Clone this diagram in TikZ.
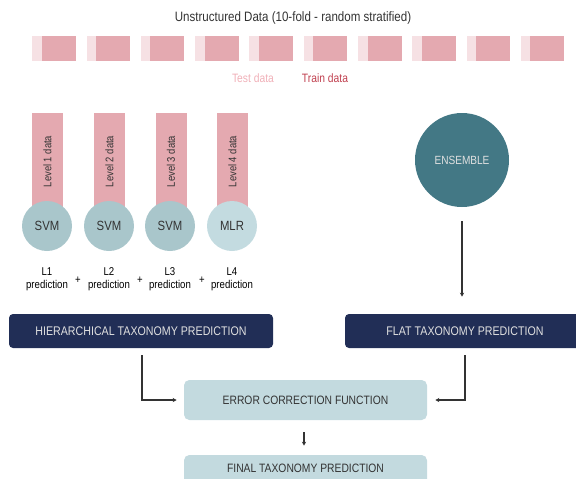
\documentclass[tikz,border=0pt]{standalone}
\usepackage{fontspec}
\setmainfont{Liberation Sans}[FakeStretch=0.85]
\usetikzlibrary{arrows.meta}
\definecolor{trainpink}{HTML}{E4A9B0}
\definecolor{testpink}{HTML}{F6E1E4}
\definecolor{testtxt}{HTML}{F0B0B8}
\definecolor{traintxt}{HTML}{C0404F}
\definecolor{svmcol}{HTML}{A9C6CB}
\definecolor{mlrcol}{HTML}{C3DBE0}
\definecolor{enscol}{HTML}{437885}
\definecolor{navy}{HTML}{212E56}
\definecolor{lightbox}{HTML}{C3DADF}
\definecolor{txtdark}{HTML}{333333}
\tikzset{
  testblk/.style={fill=testpink, draw=none, inner sep=0, minimum width=9.5*0.75pt, minimum height=25*0.75pt, anchor=west},
  trainblk/.style={fill=trainpink, draw=none, inner sep=0, minimum width=34*0.75pt, minimum height=25*0.75pt, anchor=west},
  levelbar/.style={fill=trainpink, draw=none, inner sep=0, minimum width=31*0.75pt, minimum height=97*0.75pt},
  levtxt/.style={rotate=90, font=\fontsize{8.3}{9}\selectfont, text=txtdark},
  clf/.style={circle, draw=none, minimum size=50*0.75pt, inner sep=0, font=\fontsize{10}{11}\selectfont, text=txtdark},
  predlbl/.style={align=center, font=\fontsize{8.5}{9.75}\selectfont, text=black, inner sep=0},
  navybox/.style={fill=navy, rounded corners=3pt, draw=none, minimum height=34*0.75pt, text=white!88!black, font=\fontsize{9.4}{10}\selectfont, inner sep=0},
  lightbx/.style={fill=lightbox, rounded corners=4pt, draw=none, minimum width=243*0.75pt, minimum height=40*0.75pt, text=txtdark, font=\fontsize{9.1}{10}\selectfont, inner sep=0},
  arr/.style={draw=txtdark, line width=1pt, -{Stealth[length=3pt,width=3pt]}},
}
\begin{document}
\begin{tikzpicture}[x=0.75pt, y=-0.75pt]
\useasboundingbox (0,0) rectangle (576,479);
% title
\node[font=\fontsize{10.2}{12}\selectfont, text=txtdark] (title) at (293,18) {Unstructured Data (10-fold - random stratified)};
% folds
\foreach \i in {0,...,9}{
  \node[testblk] (test\i) at ({32+54.3*\i},48.5) {};
  \node[trainblk] (train\i) at ({41.5+54.3*\i},48.5) {};
}
% legend
\node[font=\fontsize{9.1}{10}\selectfont, text=testtxt] (testlbl) at (253,78) {Test data};
\node[font=\fontsize{9.1}{10}\selectfont, text=traintxt] (trainlbl) at (325,78) {Train data};
% level bars
\node[levelbar] (bar1) at (47.5,161.5) {};
\node[levelbar] (bar2) at (109.5,161.5) {};
\node[levelbar] (bar3) at (171,161.5) {};
\node[levelbar] (bar4) at (232.5,161.5) {};
\node[levtxt] (lt1) at (bar1) {Level 1 data};
\node[levtxt] (lt2) at (bar2) {Level 2 data};
\node[levtxt] (lt3) at (bar3) {Level 3 data};
\node[levtxt] (lt4) at (bar4) {Level 4 data};
% classifiers
\node[clf, fill=svmcol] (c1) at (47,226) {SVM};
\node[clf, fill=svmcol] (c2) at (109,226) {SVM};
\node[clf, fill=svmcol] (c3) at (170,226) {SVM};
\node[clf, fill=mlrcol] (c4) at (232,226) {MLR};
% predictions
\node[predlbl] (p1) at (47,279) {L1\\prediction};
\node[predlbl] (p2) at (109,279) {L2\\prediction};
\node[predlbl] (p3) at (170,279) {L3\\prediction};
\node[predlbl] (p4) at (232,279) {L4\\prediction};
\node[predlbl] (plus1) at (78,280) {+};
\node[predlbl] (plus2) at (140,280) {+};
\node[predlbl] (plus3) at (202,280) {+};
% ensemble
\node[circle, fill=enscol, minimum size=94*0.75pt, inner sep=0, text=white!88!black, font=\fontsize{8.9}{10}\selectfont] (ens) at (462,160) {ENSEMBLE};
% boxes
\node[navybox, minimum width=264*0.75pt] (hier) at (141,331) {HIERARCHICAL TAXONOMY PREDICTION};
\node[navybox, minimum width=240*0.75pt] (flat) at (465,331) {FLAT TAXONOMY PREDICTION};
\node[lightbx] (err) at (305.5,400) {ERROR CORRECTION FUNCTION};
\node[lightbx] (final) at (305.5,475) {};
\node[font=\fontsize{9.1}{10}\selectfont, text=txtdark] (finaltxt) at (305.5,468) {FINAL TAXONOMY PREDICTION};
% connectors
\draw[arr, shorten <=10.5pt, shorten >=12.75pt] (ens.south) -- (ens.south |- flat.north);
\draw[arr, shorten <=5.25pt, shorten >=5.25pt] (hier.south -| 142,0) |- (err.west);
\draw[arr, shorten <=5.25pt, shorten >=6pt] (flat.south) |- (err.east);
\draw[arr, shorten <=9pt, shorten >=6.75pt] (err.south -| 304,0) -- (final.north -| 304,0);
\end{tikzpicture}
\end{document}
